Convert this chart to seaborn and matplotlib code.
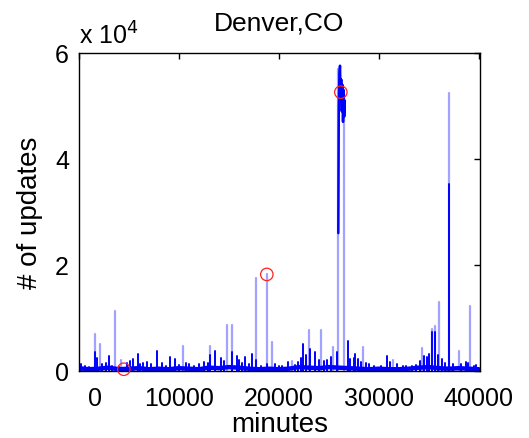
import numpy as np
import pandas as pd
import matplotlib
matplotlib.use("Agg")
import matplotlib.pyplot as plt
from matplotlib.transforms import ScaledTranslation
import seaborn as sns

# ---------------- data ----------------
light_min = [1600, 2100, 3600, 4200, 10400, 13100, 14800, 15300, 17700, 18800,
             19300, 21300, 23000, 24200, 25400, 25900, 26550, 28400, 31400,
             34300, 35300, 35600, 36000, 37000, 38000, 39100]
light_val = [7000, 5100, 11300, 2000, 4700, 4700, 8600, 8600, 17500, 18300,
             5400, 1900, 7800, 7800, 4500, 57000, 52000, 4500, 2100,
             4300, 7900, 8500, 13000, 52400, 3800, 12200]

dark_min = [1600, 1800, 3000, 5400, 5900, 6400, 7800, 9100, 9600, 11000,
            13100, 13600, 14200, 15300, 15800, 16600, 17300, 17700, 18800, 20300,
            20900, 22400, 22700, 23100, 23600, 24000, 25800, 26900, 27500, 27600,
            27900, 29000, 30800, 32400, 33300, 34500, 35300, 35600, 36300, 37000,
            38700, 39500,
            200, 600, 1000, 2300, 2700, 3300, 4000, 4800, 5100, 6100, 6800, 7200,
            8300, 8700, 10000, 10700, 11500, 12000, 12500, 12900, 14500, 16000,
            16300, 17000, 18200, 19600, 20000, 21600, 21900, 22200, 24500, 24800,
            25200, 27100, 28200, 28700, 29500, 30200, 31100, 31800, 32700, 33700,
            34100, 34800, 35000, 35900, 36600, 37400, 38200, 38900, 39700]
dark_val = [3500, 2500, 2800, 2200, 3200, 1500, 3800, 2600, 2300, 1200,
            3000, 3800, 2500, 3500, 2800, 2600, 3200, 2000, 1200, 1000,
            1700, 5100, 3000, 4200, 3500, 2000, 3500, 5600, 2500, 3200,
            2300, 1200, 2800, 1000, 1000, 2800, 7300, 7300, 2300, 35300,
            1700, 1000,
            1200, 900, 800, 1300, 1500, 1000, 800, 1400, 1800, 1300, 1600, 1200,
            1400, 1000, 1100, 1500, 900, 1300, 1700, 1500, 1800, 2000,
            1500, 1200, 1000, 1300, 900, 1100, 1700, 2500, 1800, 2000,
            2600, 2200, 1600, 1400, 900, 1000, 1700, 1200, 900, 1100,
            1800, 2600, 3200, 3000, 1500, 1200, 1300, 1500, 1100]

base_min = list(range(0, 40001, 1000))
base_val = [500, 300, 400, 600, 300, 400, 500, 300, 400, 300, 500, 400, 300, 600,
            500, 700, 600, 400, 300, 400, 300, 400, 700, 600, 500, 700, 600, 500,
            400, 300, 400, 300, 300, 400, 600, 700, 500, 400, 500, 400, 300]

burst_min = [25950, 26000, 26060, 26120, 26180, 26240, 26300, 26360, 26420,
             26480, 26540, 26600]
burst_val = [26000, 50000, 56000, 57600, 52000, 55000, 49000, 54000, 47000,
             53000, 48000, 51000]

circle_min = [4500, 18800, 26200]
circle_val = [300, 18200, 52600]

x_ticks = [0, 10000, 20000, 30000, 40000]
y_ticks = [0, 20000, 40000, 60000]
y_tick_labels = ["0", "2", "4", "6"]


def spikes_frame(xs, ys):
    rows = []
    for i, (x, y) in enumerate(zip(xs, ys)):
        rows.append((i, x, 0))
        rows.append((i, x, y))
    return pd.DataFrame(rows, columns=["sid", "minute", "count"])


sns.set_style("white")
plt.rcParams["font.family"] = ["Liberation Sans", "DejaVu Sans"]
plt.rcParams["text.color"] = "black"
plt.rcParams["axes.labelcolor"] = "black"

fig = plt.figure(figsize=(5.29, 4.39), dpi=100)
ax = fig.add_axes([0.149, 0.153, 0.758, 0.724])

lf = spikes_frame(light_min, light_val)
sns.lineplot(data=lf, x="minute", y="count", units="sid", estimator=None,
             sort=False, color="#a3a3ff", linewidth=1.6, ax=ax)

bf = pd.DataFrame({"minute": base_min, "count": base_val})
sns.lineplot(data=bf, x="minute", y="count", estimator=None, sort=False,
             color="#0000ff", linewidth=3.2, ax=ax)

df = spikes_frame(dark_min, dark_val)
sns.lineplot(data=df, x="minute", y="count", units="sid", estimator=None,
             sort=False, color="#0000ff", linewidth=1.4, ax=ax)

uf = pd.DataFrame({"minute": burst_min, "count": burst_val})
sns.lineplot(data=uf, x="minute", y="count", estimator=None, sort=False,
             color="#0000ff", linewidth=1.8, ax=ax)

cf = pd.DataFrame({"minute": circle_min, "count": circle_val})
sns.scatterplot(data=cf, x="minute", y="count", marker="o", s=80,
                facecolor="none", edgecolor="#ff2020", linewidth=0.9,
                ax=ax, zorder=5, clip_on=False)

ax.set_xlim(0, 40100)
ax.set_ylim(0, 60000)
ax.set_xticks(x_ticks)
ax.set_xticklabels([str(t) for t in x_ticks])
ax.set_yticks(y_ticks)
ax.set_yticklabels(y_tick_labels)

ax.tick_params(direction="in", length=4, width=1, top=True, right=True,
               labelsize=18, colors="black")
ax.tick_params(axis="x", pad=11)
ax.tick_params(axis="y", pad=7)
for s in ax.spines.values():
    s.set_visible(True)
    s.set_color("black")
    s.set_linewidth(1.0)

ax.set_xlabel("minutes", fontsize=20, labelpad=1)
ax.set_ylabel("# of updates", fontsize=20, labelpad=9)
ax.set_title("Denver,CO", fontsize=19, pad=17, color="black")
ax.text(0.0, 1.015, r"x 10$^4$", transform=ax.transAxes, fontsize=18,
        ha="left", va="bottom", color="black")

lbl = ax.get_xticklabels()[0]
lbl.set_transform(lbl.get_transform() + ScaledTranslation(0.16, 0, fig.dpi_scale_trans))

fig.savefig("out.png", dpi=100)
